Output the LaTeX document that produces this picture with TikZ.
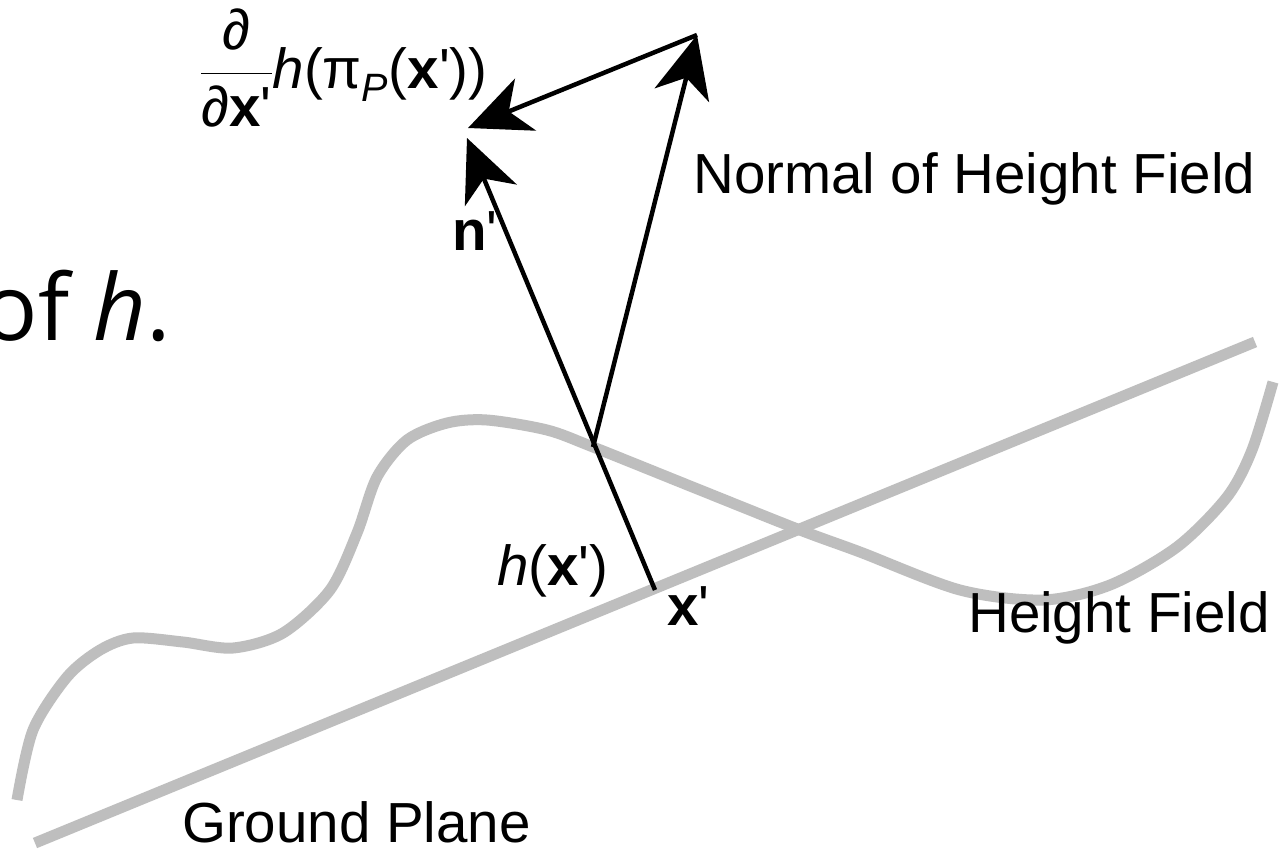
\RequirePackage{fix-cm}
\documentclass[tikz,border=0pt]{standalone}
\usepackage{amsmath}
\usepackage{fontspec}
\setmainfont{Liberation Sans}
\newfontfamily\slidefont{Open Sans}
\usetikzlibrary{arrows.meta}
\definecolor{fieldgray}{RGB}{190,190,190}
\tikzset{lbl/.style={font=\fontsize{56.5}{62}\selectfont,inner sep=0pt},
  vec/.style={line width=4.5pt,-{Stealth[length=62pt,width=56pt,inset=18pt]}},
  field/.style={line width=11pt,fieldgray}}

\begin{document}
\begin{tikzpicture}[x=1pt,y=-1pt]
\useasboundingbox[fill=white] (0,0) rectangle (1280,852);
% ground plane and height field
\coordinate (g1) at (35,843);\coordinate (g2) at (1255,342);
\draw[field] (g1)--(g2);
\draw[field] plot[smooth] coordinates {(17,800) (33,730) (67,677) (100,650) (133,638) (183,642) (233,648) (283,633) (330,590) (357,533) (377,477) (407,440) (447,423) (487,420) (547,430) (593,447) (700,490) (800,530) (860,552) (960,590) (1043,600) (1110,585) (1177,547) (1227,497) (1252,450) (1273,382)};
% vectors
\coordinate (xp) at (655,590);\coordinate (p) at (593,447);
\coordinate (ntip) at (467,138);\coordinate (top) at (697,35);\coordinate (dtip) at (468,128);
\draw[vec] (xp)--(ntip);
\draw[vec] (p)--(top);
\draw[vec] (top)--(dtip);
% labels
\node[lbl,anchor=base west] (nrm) at (693,193) {Normal of Height Field};
\node[lbl,anchor=base west] (hf) at (968,632) {Height Field};
\node[lbl,anchor=base west] (gp) at (182,842) {Ground Plane};
\node[lbl,anchor=base west] (nl) at (452,250) {\textbf{n}\textquotesingle};
\node[lbl,anchor=base west] (xl) at (667,625) {\textbf{x}\textquotesingle};
\node[lbl,anchor=base west] (hl) at (497,585) {\textit{h}(\textbf{x}\textquotesingle)};
\node[lbl,anchor=base west] (dl) at (200,88) {$\displaystyle\frac{\text{∂}}{\text{∂\textbf{x}\textquotesingle}}\text{\textit{h}(π}_{\text{\textit{P}}}\text{(\textbf{x}\textquotesingle))}$};
\node[inner sep=0pt,anchor=base east,font=\slidefont\fontsize{92}{100}\selectfont] (oh) at (171,340) {of \textit{h}.};
\end{tikzpicture}
\end{document}
